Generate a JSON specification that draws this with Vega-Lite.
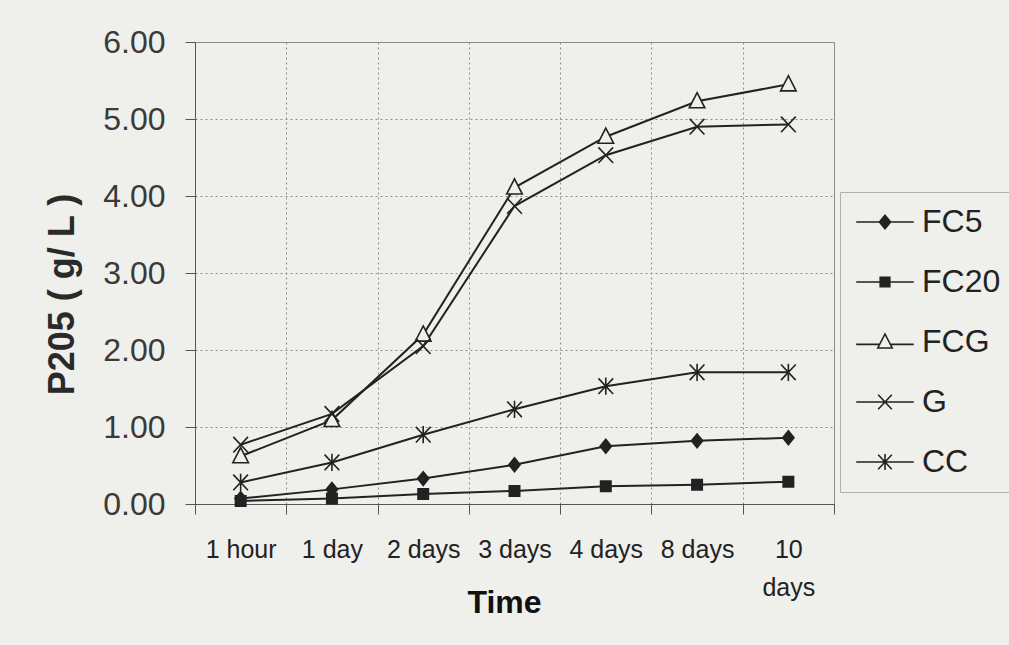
{
  "$schema": "https://vega.github.io/schema/vega-lite/v6.json",
  "width": 639,
  "height": 462,
  "autosize": {"type": "none"},
  "padding": {"left": 195, "top": 42, "right": 175, "bottom": 141},
  "background": "#efefec",
  "config": {
    "view": {"stroke": "#8a8a8a", "strokeWidth": 1},
    "font": "Liberation Sans"
  },
  "data": {
    "values": [
      {"time": "1 hour", "series": "FC5", "value": 0.07},
      {"time": "1 day", "series": "FC5", "value": 0.19},
      {"time": "2 days", "series": "FC5", "value": 0.33},
      {"time": "3 days", "series": "FC5", "value": 0.51},
      {"time": "4 days", "series": "FC5", "value": 0.75},
      {"time": "8 days", "series": "FC5", "value": 0.82},
      {"time": "10 days", "series": "FC5", "value": 0.86},
      {"time": "1 hour", "series": "FC20", "value": 0.04},
      {"time": "1 day", "series": "FC20", "value": 0.07},
      {"time": "2 days", "series": "FC20", "value": 0.13},
      {"time": "3 days", "series": "FC20", "value": 0.17},
      {"time": "4 days", "series": "FC20", "value": 0.23},
      {"time": "8 days", "series": "FC20", "value": 0.25},
      {"time": "10 days", "series": "FC20", "value": 0.29},
      {"time": "1 hour", "series": "FCG", "value": 0.62},
      {"time": "1 day", "series": "FCG", "value": 1.09},
      {"time": "2 days", "series": "FCG", "value": 2.2},
      {"time": "3 days", "series": "FCG", "value": 4.11},
      {"time": "4 days", "series": "FCG", "value": 4.77},
      {"time": "8 days", "series": "FCG", "value": 5.23},
      {"time": "10 days", "series": "FCG", "value": 5.45},
      {"time": "1 hour", "series": "G", "value": 0.77},
      {"time": "1 day", "series": "G", "value": 1.17},
      {"time": "2 days", "series": "G", "value": 2.05},
      {"time": "3 days", "series": "G", "value": 3.87},
      {"time": "4 days", "series": "G", "value": 4.53},
      {"time": "8 days", "series": "G", "value": 4.9},
      {"time": "10 days", "series": "G", "value": 4.93},
      {"time": "1 hour", "series": "CC", "value": 0.28},
      {"time": "1 day", "series": "CC", "value": 0.54},
      {"time": "2 days", "series": "CC", "value": 0.9},
      {"time": "3 days", "series": "CC", "value": 1.23},
      {"time": "4 days", "series": "CC", "value": 1.53},
      {"time": "8 days", "series": "CC", "value": 1.71},
      {"time": "10 days", "series": "CC", "value": 1.71}
    ]
  },
  "encoding": {
    "x": {
      "field": "time",
      "type": "ordinal",
      "sort": ["1 hour", "1 day", "2 days", "3 days", "4 days", "8 days", "10 days"],
      "scale": {"type": "band", "paddingInner": 0, "paddingOuter": 0},
      "bandPosition": 0.5,
      "axis": {
        "title": "Time",
        "tickBand": "extent",
        "grid": true,
        "gridDash": [2, 3],
        "gridColor": "#8c8c8c",
        "domainColor": "#555555",
        "tickColor": "#555555",
        "tickSize": 10,
        "labelAngle": 0,
        "labelOverlap": false,
        "labelFont": "Liberation Sans",
        "labelFontSize": 25,
        "labelColor": "#222222",
        "labelBaseline": "alphabetic",
        "labelPadding": 43,
        "labelLineHeight": 38,
        "labelExpr": "datum.label == '10 days' ? ['10', 'days'] : datum.label",
        "titleFont": "Liberation Sans",
        "titleFontWeight": "bold",
        "titleFontSize": 32,
        "titleColor": "#111111",
        "titleX": 309,
        "titleY": 108,
        "titleBaseline": "alphabetic"
      }
    },
    "y": {
      "field": "value",
      "type": "quantitative",
      "scale": {"domain": [0, 6], "nice": false},
      "axis": {
        "title": "P205 ( g/ L )",
        "values": [0, 1, 2, 3, 4, 5, 6],
        "format": ".2f",
        "grid": true,
        "gridDash": [2, 3],
        "gridColor": "#8c8c8c",
        "domainColor": "#555555",
        "tickColor": "#555555",
        "tickSize": 10,
        "labelFontSize": 32,
        "labelColor": "#3a3a3a",
        "labelPadding": 20,
        "titleFontSize": 36,
        "titleFontWeight": "bold",
        "titleColor": "#2a2a2a",
        "titleAngle": 270,
        "titleX": -133,
        "titleY": 252,
        "titleBaseline": "middle",
        "titleAlign": "center"
      }
    }
  },
  "layer": [
    {
      "mark": {"type": "line", "color": "#222222", "strokeWidth": 2},
      "encoding": {"detail": {"field": "series"}}
    },
    {
      "mark": {"type": "point", "stroke": "#222222", "strokeWidth": 1.6, "size": 300, "opacity": 1, "fillOpacity": 1},
      "encoding": {
        "shape": {
          "field": "series",
          "type": "nominal",
          "scale": {
            "domain": ["FC5", "FC20", "FCG", "G", "CC"],
            "range": [
              "M0,-0.8L0.65,0L0,0.8L-0.65,0Z",
              "M-0.6,-0.6H0.6V0.6H-0.6Z",
              "M0,-1L0.9,0.75H-0.9Z",
              "M-0.85,-0.9L0.85,0.9M-0.85,0.9L0.85,-0.9",
              "M-0.85,-0.9L0.85,0.9M-0.85,0.9L0.85,-0.9M0,-1V1"
            ]
          },
          "legend": null
        },
        "fill": {
          "field": "series",
          "type": "nominal",
          "sort": ["FC5", "FC20", "FCG", "G", "CC"],
          "scale": {
            "range": ["#222222", "#222222", "#efefec", "transparent", "transparent"]
          },
          "legend": {
            "title": null,
            "orient": "none",
            "legendX": 645,
            "legendY": 150,
            "padding": 14,
            "symbolOffset": 15,
            "labelOffset": 21,
            "rowPadding": 28,
            "symbolSize": 256,
            "symbolStrokeWidth": 1.6,
            "symbolStrokeColor": "#222222",
            "labelFontSize": 32,
            "labelFont": "Liberation Sans",
            "labelColor": "#222222",
            "labelLimit": 300,
            "strokeColor": "#b0b0b0",
            "fillColor": "#efefec",
            "encoding": {
              "symbols": {
                "shape": {"value": {"expr": "datum.value==='FC5' ? 'M-3.6,0H-0.5M0.5,0H3.6M0,-0.85L0.7,0L0,0.85L-0.7,0Z' : datum.value==='FC20' ? 'M-3.6,0H-0.5M0.5,0H3.6M-0.6,-0.6H0.6V0.6H-0.6Z' : datum.value==='FCG' ? 'M-3.6,0.3H-0.75M0.75,0.3H3.6M0,-1L0.9,0.75H-0.9Z' : datum.value==='G' ? 'M-3.6,0H3.6M-0.85,-0.9L0.85,0.9M-0.85,0.9L0.85,-0.9' : 'M-3.6,0H3.6M-0.85,-0.9L0.85,0.9M-0.85,0.9L0.85,-0.9M0,-1V1'"}},
                "fill": {"value": {"expr": "(datum.value==='FC5' || datum.value==='FC20') ? '#222222' : (datum.value==='FCG' ? '#efefec' : 'transparent')"}},
                "stroke": {"value": "#222222"},
                "strokeWidth": {"value": 1.6},
                "opacity": {"value": 1}
              }
            }
          }
        }
      }
    }
  ]
}
